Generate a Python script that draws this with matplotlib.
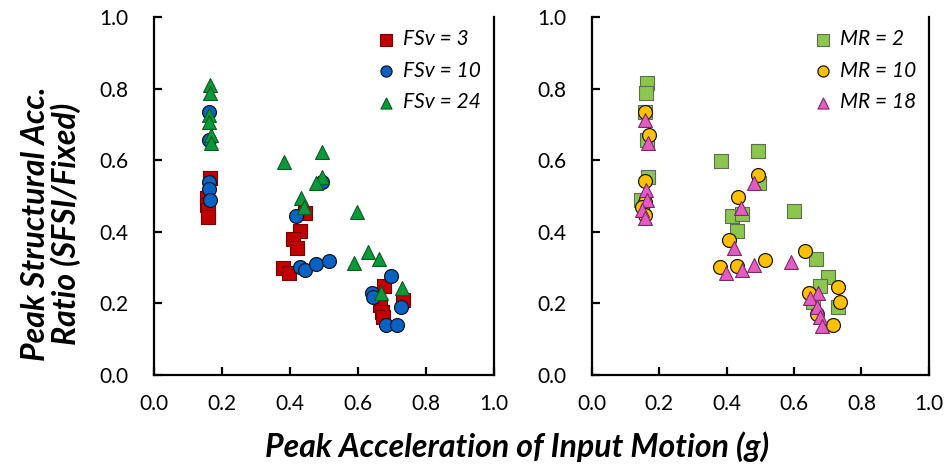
import matplotlib
matplotlib.use("Agg")
import matplotlib.pyplot as plt

plt.rcParams['font.family'] = ['Lato', 'DejaVu Sans']

# left panel: grouped by FSv
fsv3_x = [0.165, 0.155, 0.155, 0.16, 0.16, 0.444, 0.429, 0.408, 0.421, 0.38, 0.398, 0.676, 0.733, 0.665, 0.67, 0.674]
fsv3_y = [0.55, 0.494, 0.475, 0.46, 0.44, 0.453, 0.403, 0.379, 0.356, 0.298, 0.286, 0.249, 0.209, 0.196, 0.177, 0.163]
fsv10_x = [0.163, 0.163, 0.163, 0.163, 0.165, 0.494, 0.417, 0.429, 0.444, 0.476, 0.514, 0.699, 0.643, 0.645, 0.726, 0.682, 0.716]
fsv10_y = [0.735, 0.657, 0.54, 0.52, 0.49, 0.54, 0.445, 0.303, 0.293, 0.309, 0.319, 0.277, 0.23, 0.217, 0.189, 0.14, 0.14]
fsv24_x = [0.165, 0.165, 0.163, 0.163, 0.168, 0.168, 0.383, 0.494, 0.494, 0.478, 0.434, 0.441, 0.599, 0.63, 0.662, 0.59, 0.668, 0.73]
fsv24_y = [0.81, 0.788, 0.726, 0.707, 0.67, 0.648, 0.596, 0.624, 0.554, 0.535, 0.494, 0.468, 0.456, 0.344, 0.323, 0.314, 0.23, 0.242]

# right panel: grouped by MR
mr2_x = [0.165, 0.161, 0.158, 0.163, 0.166, 0.147, 0.494, 0.384, 0.497, 0.417, 0.447, 0.43, 0.601, 0.664, 0.70, 0.677, 0.655, 0.731]
mr2_y = [0.815, 0.789, 0.735, 0.656, 0.554, 0.489, 0.627, 0.598, 0.537, 0.444, 0.451, 0.403, 0.458, 0.325, 0.275, 0.249, 0.205, 0.19]
mr10_x = [0.158, 0.17, 0.158, 0.158, 0.15, 0.158, 0.494, 0.435, 0.408, 0.381, 0.43, 0.514, 0.633, 0.731, 0.644, 0.736, 0.667, 0.716]
mr10_y = [0.735, 0.67, 0.542, 0.484, 0.47, 0.447, 0.559, 0.498, 0.377, 0.301, 0.304, 0.32, 0.347, 0.245, 0.23, 0.205, 0.17, 0.14]
mr18_x = [0.158, 0.168, 0.16, 0.163, 0.15, 0.158, 0.48, 0.442, 0.422, 0.398, 0.445, 0.48, 0.591, 0.67, 0.647, 0.667, 0.677, 0.684]
mr18_y = [0.712, 0.649, 0.517, 0.49, 0.46, 0.438, 0.537, 0.467, 0.356, 0.285, 0.293, 0.307, 0.315, 0.23, 0.214, 0.189, 0.161, 0.137]

ticks = [0.0, 0.2, 0.4, 0.6, 0.8, 1.0]
ticklabels = ['0.0', '0.2', '0.4', '0.6', '0.8', '1.0']

fig = plt.figure(figsize=(9.44, 4.72), dpi=100)
ax1 = fig.add_axes([0.163, 0.2055, 0.360, 0.7585])
ax2 = fig.add_axes([0.6266, 0.2055, 0.3575, 0.7585])


def style(ax):
    ax.set_xlim(0, 1)
    ax.set_ylim(0, 1)
    ax.set_xticks(ticks)
    ax.set_yticks(ticks)
    ax.set_xticklabels(ticklabels)
    ax.set_yticklabels(ticklabels)
    ax.spines['top'].set_visible(False)
    for s in ['left', 'right', 'bottom']:
        ax.spines[s].set_linewidth(1.6)
    ax.tick_params(direction='in', length=6, width=1.6, labelsize=15)
    ax.tick_params(axis='y', pad=18)
    ax.tick_params(axis='x', pad=14)


ms = 100
ax1.scatter(fsv3_x, fsv3_y, marker='s', s=ms, c='#C00000', edgecolors='#7a0000', linewidths=0.8, label='FSv = 3', zorder=3)
ax1.scatter(fsv10_x, fsv10_y, marker='o', s=ms, c='#0A62C4', edgecolors='#101820', linewidths=0.9, label='FSv = 10', zorder=3)
ax1.scatter(fsv24_x, fsv24_y, marker='^', s=ms, c='#0A9A3A', edgecolors='#0b5a22', linewidths=0.8, label='FSv = 24', zorder=3)

ax2.scatter(mr2_x, mr2_y, marker='s', s=ms, c='#8CC64E', edgecolors='#5e6e50', linewidths=0.8, label='MR = 2', zorder=3)
ax2.scatter(mr10_x, mr10_y, marker='o', s=ms, c='#FFC000', edgecolors='#1a1a1a', linewidths=0.9, label='MR = 10', zorder=3)
ax2.scatter(mr18_x, mr18_y, marker='^', s=ms, c='#E55CC0', edgecolors='#7a2a6a', linewidths=0.8, label='MR = 18', zorder=3)

for ax in (ax1, ax2):
    style(ax)
    ax.legend(loc='upper right', frameon=False, prop={'style': 'italic', 'size': 15},
              handlelength=1.0, handletextpad=0.35, labelspacing=0.55, markerscale=0.8,
              borderaxespad=0.2)

fig.text(0.054, 0.525, 'Peak Structural Acc.\nRatio (SFSI/Fixed)', fontsize=23, fontweight='bold',
         fontstyle='italic', rotation=90, ha='center', va='center', multialignment='center',
         linespacing=1.0)
fig.text(0.548, 0.053, 'Peak Acceleration of Input Motion (g)', fontsize=23, fontweight='bold',
         fontstyle='italic', ha='center', va='center')

fig.savefig('out.png', dpi=100)
